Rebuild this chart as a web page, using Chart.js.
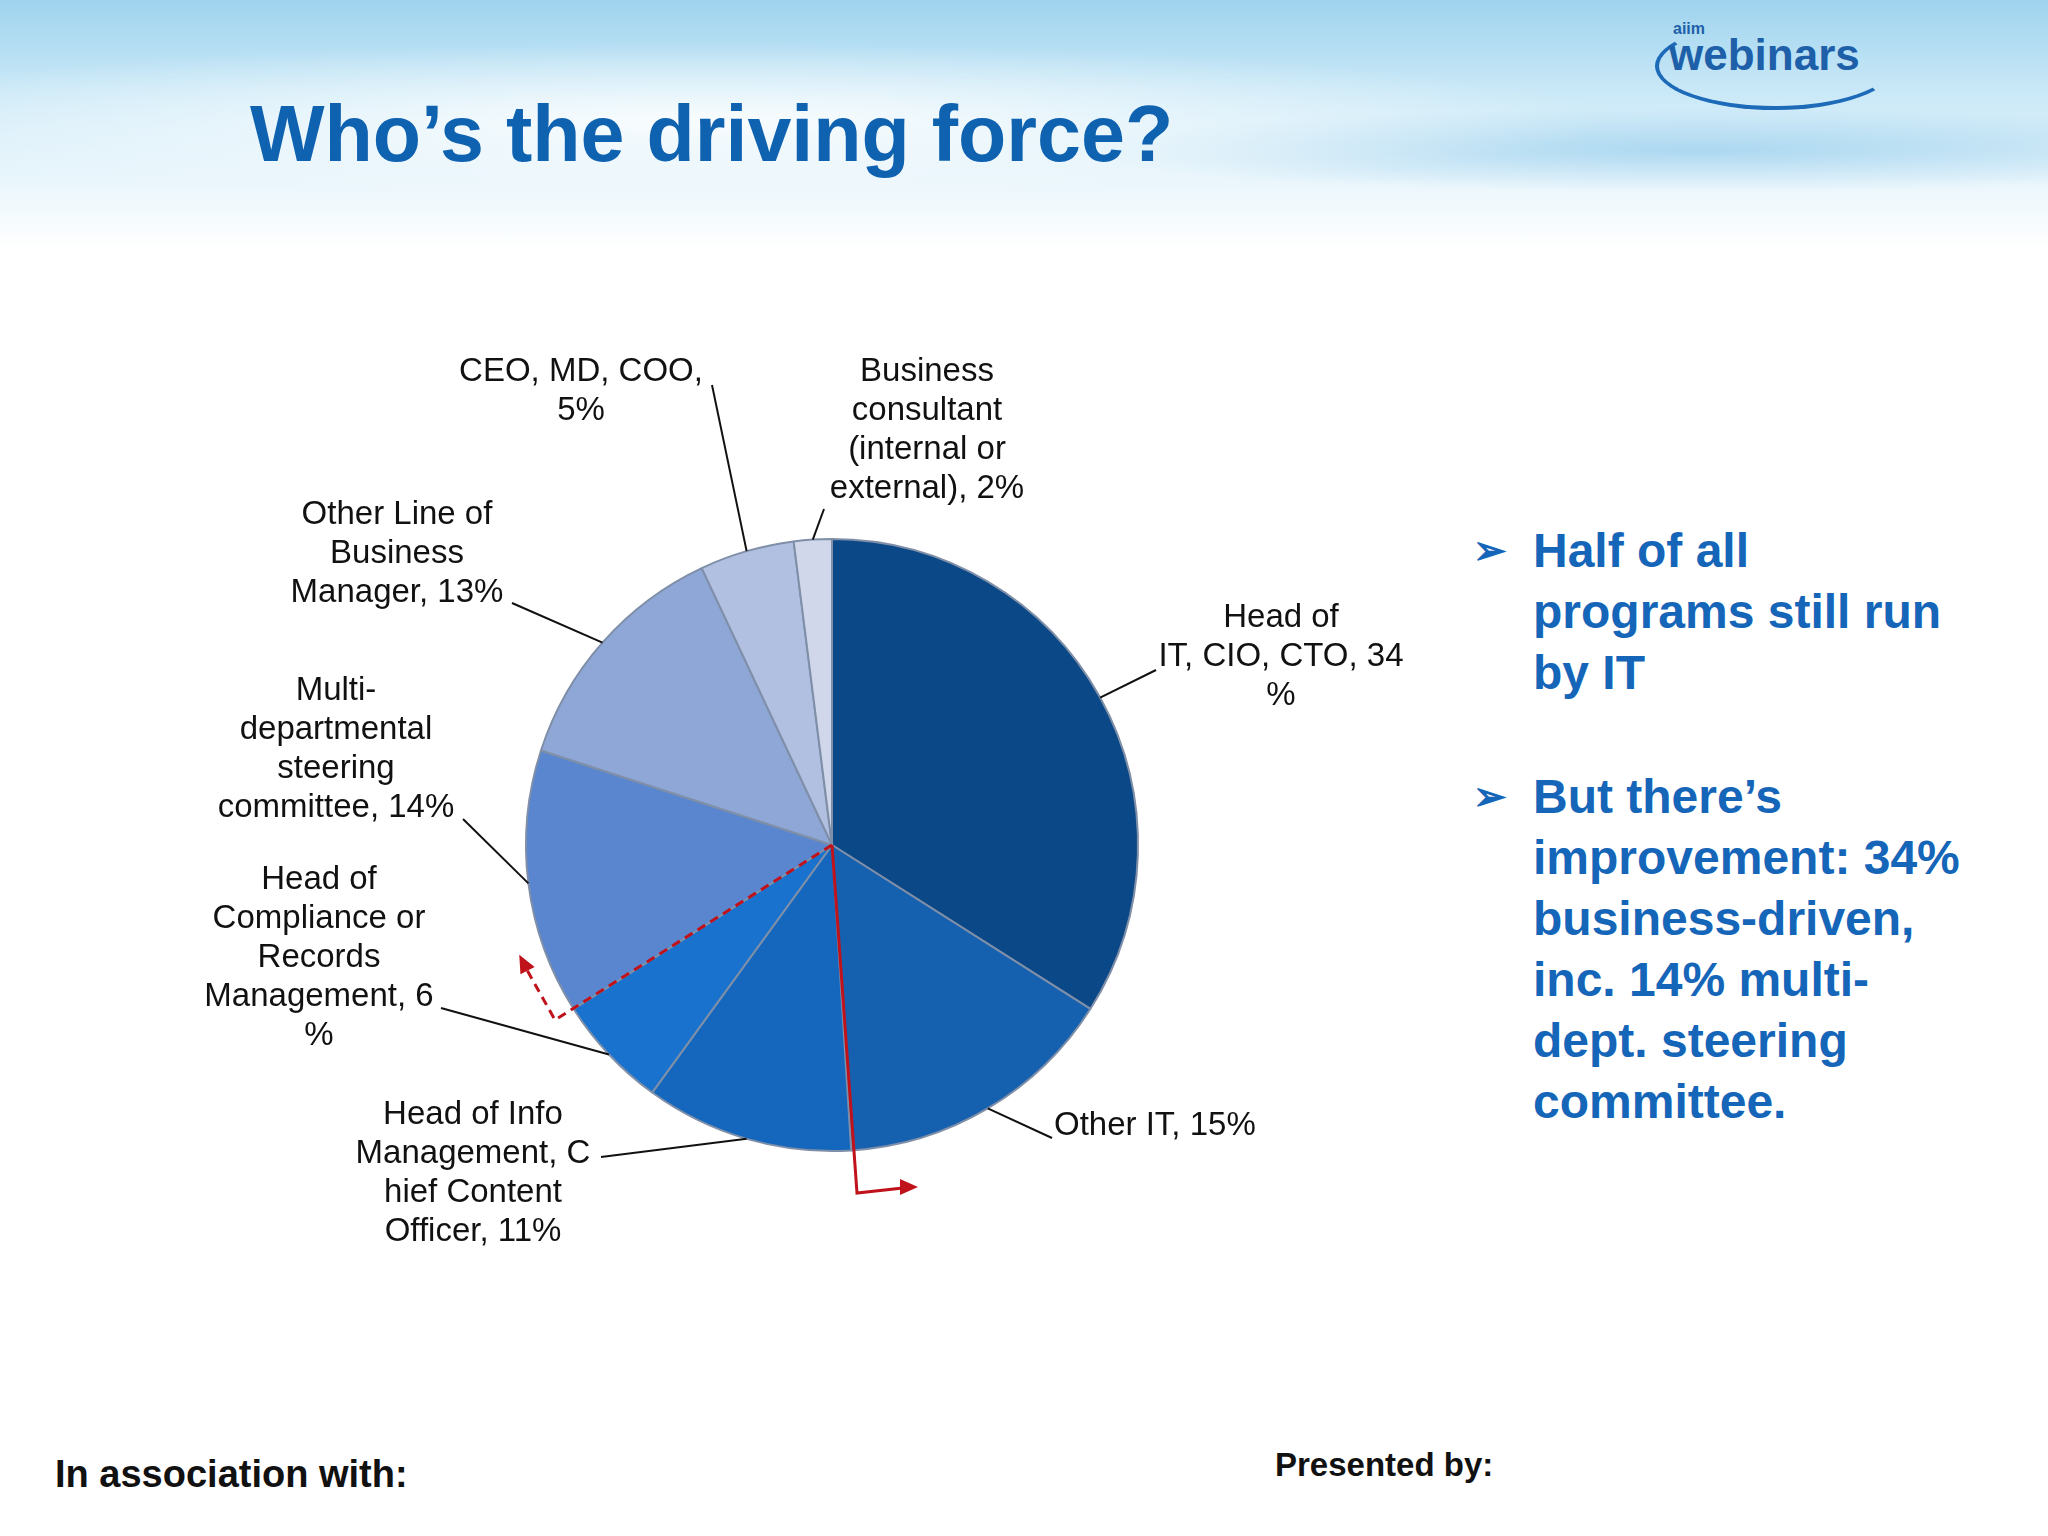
<!DOCTYPE html>
<html>
<head>
<meta charset="utf-8">
<script src="https://cdn.jsdelivr.net/npm/chart.js@4"></script>
<style>
  body { margin: 0; width: 2048px; height: 1536px; position: relative; overflow: hidden; background: #fff; font-family: "Liberation Sans", Arial, sans-serif; }
  #header { position: absolute; left: 0; top: 0; width: 2048px; height: 260px;
    background:
      radial-gradient(ellipse 1300px 110px at 700px 120px, rgba(255,255,255,0.85), rgba(255,255,255,0) 70%),
      radial-gradient(ellipse 900px 60px at 1700px 150px, rgba(120,190,230,0.5), rgba(255,255,255,0) 70%),
      linear-gradient(#9fd3ee 0px, #c9e8f7 90px, #e3f3fb 160px, #ffffff 250px); }
  #title { position: absolute; left: 250px; top: 88px; font-size: 79px; font-weight: bold; color: #0e62b0; }
  #logo { position: absolute; left: 1655px; top: 22px; width: 232px; height: 80px; border: 4px solid #1d6bb8; border-radius: 50%; border-color: transparent transparent #1d6bb8 #1d6bb8; }
  #logo span { position: absolute; left: 10px; top: 4px; font-size: 44px; font-weight: bold; color: #1d5fa8; }
  #logo small { position: absolute; left: 14px; top: -6px; font-size: 16px; font-weight: bold; color: #1d5fa8; }
  #bullets { position: absolute; left: 1473px; top: 520px; width: 560px; color: #1565b8; font-size: 48px; font-weight: bold; line-height: 61px; white-space: nowrap; }
  .b { position: relative; padding-left: 60px; margin-bottom: 63px; }
  .b:before { content: "➢"; position: absolute; left: 0; font-size: 40px; }
  #assoc { position: absolute; left: 55px; top: 1453px; font-size: 38px; font-weight: bold; color: #111; }
  #pres { position: absolute; left: 1275px; top: 1446px; font-size: 33px; font-weight: bold; color: #111; }
  #wrap { position: absolute; left: 0; top: 0; width: 2048px; height: 1536px; }
</style>
</head>
<body>
<div id="header"></div>
<div id="title">Who’s the driving force?</div>
<div id="logo"><small>aiim</small><span>webinars</span></div>
<div id="bullets">
  <div class="b">Half of all<br>programs still run<br>by IT</div>
  <div class="b">But there’s<br>improvement: 34%<br>business-driven,<br>inc. 14% multi-<br>dept. steering<br>committee.</div>
</div>
<div id="assoc">In association with:</div>
<div id="pres">Presented by:</div>
<div id="wrap"><canvas id="pie"></canvas></div>
<script>
const categories = ['Head of IT, CIO, CTO', 'Other IT', 'Head of Info Management, Chief Content Officer',
  'Head of Compliance or Records Management', 'Multi-departmental steering committee',
  'Other Line of Business Manager', 'CEO, MD, COO', 'Business consultant (internal or external)'];
const values = [34, 15, 11, 6, 14, 13, 5, 2];
const labelLines = [
  ['Head of', 'IT, CIO, CTO, 34', '%'],
  ['Other IT, 15%'],
  ['Head of Info', 'Management, C', 'hief Content', 'Officer, 11%'],
  ['Head of', 'Compliance or', 'Records', 'Management, 6', '%'],
  ['Multi-', 'departmental', 'steering', 'committee, 14%'],
  ['Other Line of', 'Business', 'Manager, 13%'],
  ['CEO, MD, COO,', '5%'],
  ['Business', 'consultant', '(internal or', 'external), 2%']
];
const colors = ['#0a4887', '#1660b0', '#1467bd', '#1a72cf', '#5a86cf', '#8fa7d7', '#b1bfe1', '#d0d7eb'];

// label layout: text x, first line y, alignment, leader end point
const labelPos = [
  { x: 1281, y: 618, align: 'center', lx: 1156, ly: 670 },
  { x: 1054, y: 1126, align: 'left', lx: 1052, ly: 1138 },
  { x: 473, y: 1115, align: 'center', lx: 601, ly: 1157 },
  { x: 319, y: 880, align: 'center', lx: 441, ly: 1008 },
  { x: 336, y: 691, align: 'center', lx: 463, ly: 819 },
  { x: 397, y: 515, align: 'center', lx: 512, ly: 603 },
  { x: 581, y: 372, align: 'center', lx: 712, ly: 385 },
  { x: 927, y: 372, align: 'center', lx: 824, ly: 509 }
];

const labelPlugin = {
  id: 'labels',
  afterDraw(chart) {
    const c = chart.ctx;
    const arcs = chart.getDatasetMeta(0).data;
    c.save();
    c.font = '33px "Liberation Sans", Arial, sans-serif';
    c.fillStyle = '#111';
    c.strokeStyle = '#111';
    c.lineWidth = 2;
    c.textBaseline = 'middle';
    arcs.forEach((a, i) => {
      const p = labelPos[i];
      const mid = (a.startAngle + a.endAngle) / 2;
      const ex = a.x + Math.cos(mid) * a.outerRadius;
      const ey = a.y + Math.sin(mid) * a.outerRadius;
      c.beginPath();
      c.moveTo(ex, ey);
      c.lineTo(p.lx, p.ly);
      c.stroke();
      c.textAlign = p.align;
      labelLines[i].forEach((t, k) => c.fillText(t, p.x, p.y + k * 39));
    });
    // red annotation arrows
    const cx = arcs[0].x, cy = arcs[0].y;
    c.strokeStyle = '#c0121b';
    c.fillStyle = '#c0121b';
    c.lineWidth = 3;
    c.beginPath();
    c.moveTo(cx, cy); c.lineTo(cx + 25, cy + 348); c.lineTo(cx + 80, cy + 342);
    c.stroke();
    arrowHead(c, cx + 80, cy + 342, 0);
    c.setLineDash([9, 6]);
    c.beginPath();
    c.moveTo(cx, cy); c.lineTo(cx - 277, cy + 175); c.lineTo(cx - 305, cy + 125);
    c.stroke();
    c.setLineDash([]);
    arrowHead(c, cx - 310, cy + 115, -2.05);
    c.restore();
  }
};

function arrowHead(c, x, y, ang) {
  c.save();
  c.translate(x, y);
  c.rotate(ang);
  c.beginPath();
  c.moveTo(6, 0); c.lineTo(-12, -8); c.lineTo(-12, 8); c.closePath();
  c.fill();
  c.restore();
}

new Chart(document.getElementById('pie'), {
  type: 'pie',
  data: {
    labels: categories,
    datasets: [{
      data: values,
      backgroundColor: colors,
      borderColor: '#7f8fa8',
      borderWidth: 2
    }]
  },
  options: {
    responsive: true,
    maintainAspectRatio: false,
    animation: false,
    layout: { padding: { left: 525, right: 909, top: 538, bottom: 384 } },
    plugins: { legend: { display: false }, tooltip: { enabled: false } }
  },
  plugins: [labelPlugin]
});
</script>
</body>
</html>
